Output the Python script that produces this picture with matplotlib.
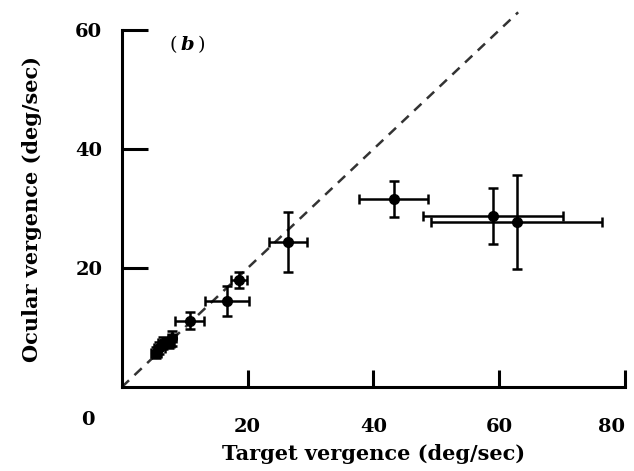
import matplotlib.pyplot as plt

# values (deg/sec)
target = [5.5, 6.0, 6.5, 7.5, 8.0, 10.8, 16.8, 18.6, 26.4, 43.2, 59.0, 62.8]
ocular = [5.8, 6.6, 7.4, 7.4, 8.2, 11.2, 14.5, 18.0, 24.4, 31.6, 28.7, 27.7]
target_err = [0.8, 0.9, 0.8, 0.8, 0.7, 2.3, 3.5, 1.3, 3.0, 5.5, 11.2, 13.6]
ocular_err = [0.9, 1.0, 1.0, 0.9, 1.2, 1.5, 2.5, 1.4, 5.0, 3.0, 4.7, 7.9]

xticks = [20, 40, 60, 80]
yticks = [20, 40, 60]

plt.rcParams['font.family'] = ['DejaVu Serif']
plt.rcParams['font.weight'] = 'bold'
plt.rcParams['axes.labelweight'] = 'bold'

fig = plt.figure(figsize=(6.34, 4.71), dpi=100)
ax = fig.add_axes([0.192, 0.178, 0.794, 0.758])

# identity line
ax.plot([0, 63], [0, 63], ls=(0, (4, 3)), color='#333333', lw=1.8, clip_on=False)

ax.errorbar(target, ocular, xerr=target_err, yerr=ocular_err, fmt='o', color='black',
            ms=7, elinewidth=1.8, capsize=3.5, capthick=1.8, clip_on=False)

ax.set_xlim(0, 80)
ax.set_ylim(0, 60)
ax.spines['top'].set_visible(False)
ax.spines['right'].set_visible(False)
ax.spines['left'].set_linewidth(2.2)
ax.spines['bottom'].set_linewidth(2.2)

ax.set_xticks(xticks)
ax.set_yticks(yticks)
ax.tick_params(axis='x', direction='in', length=12, width=2.2, pad=22, labelsize=14)
ax.tick_params(axis='y', direction='in', length=19, width=2.2, pad=14, labelsize=14)
ax.get_xticklabels()[-1].set_ha('right')
ax.text(-5.4, -5.5, '0', fontsize=14, ha='center', va='center')

ax.text(8.2, 57.5, '(', fontsize=14, ha='center', va='center', weight='normal')
ax.text(10.5, 57.5, 'b', fontsize=14, style='italic', ha='center', va='center')
ax.text(12.6, 57.5, ')', fontsize=14, ha='center', va='center', weight='normal')

ax.set_xlabel('Target vergence (deg/sec)', fontsize=15, labelpad=6)
ax.set_ylabel('Ocular vergence (deg/sec)', fontsize=15, labelpad=24)

fig.savefig('out.png', dpi=100)
